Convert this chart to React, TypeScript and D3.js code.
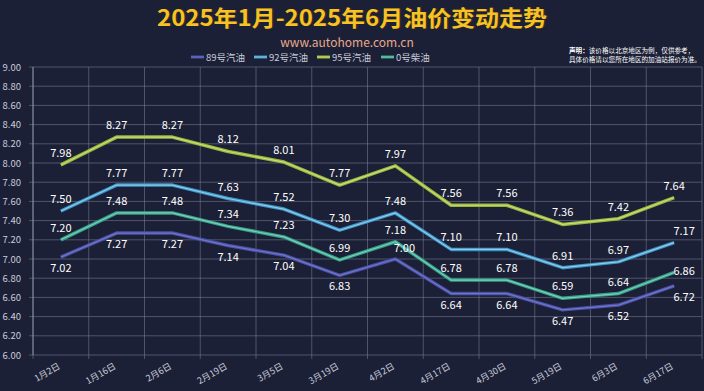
import * as d3 from 'd3';
import React from 'react';

const categories = ['1月2日', '1月16日', '2月6日', '2月19日', '3月5日', '3月19日', '4月2日', '4月17日', '4月30日', '5月19日', '6月3日', '6月17日'];
const seriesNames = ['89号汽油', '92号汽油', '95号汽油', '0号柴油'];
const gas89 = [7.02, 7.27, 7.27, 7.14, 7.04, 6.83, 7.0, 6.64, 6.64, 6.47, 6.52, 6.72];
const gas92 = [7.5, 7.77, 7.77, 7.63, 7.52, 7.3, 7.48, 7.1, 7.1, 6.91, 6.97, 7.17];
const gas95 = [7.98, 8.27, 8.27, 8.12, 8.01, 7.77, 7.97, 7.56, 7.56, 7.36, 7.42, 7.64];
const diesel0 = [7.2, 7.48, 7.48, 7.34, 7.23, 6.99, 7.18, 6.78, 6.78, 6.59, 6.64, 6.86];
const yTicks = [6.0, 6.2, 6.4, 6.6, 6.8, 7.0, 7.2, 7.4, 7.6, 7.8, 8.0, 8.2, 8.4, 8.6, 8.8, 9.0];

const W = 704, H = 391;
const left = 33, right = 702, top = 67, bottom = 355;
const font = '"Noto Sans CJK SC", "Noto Sans", sans-serif';

const colors = ['#4a4fa6', '#3b95c8', '#98b63a', '#33a088'];
const cores = ['#7076c8', '#8fcbe8', '#c6de7c', '#7ccfb6'];

export default function App() {
  const series = [gas89, gas92, gas95, diesel0];
  const x = d3.scaleBand<string>().domain(categories).range([left, right]);
  const y = d3.scaleLinear().domain([6, 9]).range([bottom, top]);
  const cx = (c: string) => (x(c) ?? 0) + x.bandwidth() / 2;
  const line = d3.line<number>().x((_, i) => cx(categories[i])).y(d => y(d));
  const last = categories.length - 1;

  // label placement: 89 below the line, others above
  const labelPos = (s: number, i: number) => {
    let dx = 0;
    let dy = s === 0 ? 15 : -8;
    if (s === 0 && i === 6) { dy = -7; dx = 9; }
    if (i === last && s !== 2) {
      dx = 10;
      if (s === 3) dy = 3;
    }
    return { dx, dy };
  };

  const legendX = [191, 254, 317, 381];

  return (
    <svg width={W} height={H} style={{ position: 'absolute', left: 0, top: 0 }} fontFamily={font}>
      <rect width={W} height={H} fill="#1c2036" />
      <g transform="translate(352,0) scale(1.09,1)">
        <text x={1.2} y={25.5} textAnchor="middle" fontSize={22} fontWeight="bold" fill="#4a3008" opacity={0.8}>
          2025年1月-2025年6月油价变动走势
        </text>
        <text x={0} y={25.5} textAnchor="middle" fontSize={22} fontWeight="bold" fill="#f6c224">
          2025年1月-2025年6月油价变动走势
        </text>
      </g>
      <text x={347} y={46.5} textAnchor="middle" fontSize={12} fill="#e9a98c">
        www.autohome.com.cn
      </text>
      {seriesNames.map((n, i) => (
        <g key={n}>
          <line x1={legendX[i]} x2={legendX[i] + 13} y1={57} y2={57} stroke={colors[i]} strokeWidth={3} />
          <line x1={legendX[i]} x2={legendX[i] + 13} y1={57} y2={57} stroke={cores[i]} strokeWidth={1} />
          <text x={legendX[i] + 15} y={60.5} fontSize={9.5} fill="#c9cddb">{n}</text>
        </g>
      ))}
      <text x={569} y={53} fontSize={6.6} fill="#ffffff">
        <tspan fontWeight="bold">声明：</tspan>该价格以北京地区为例，仅供参考，
      </text>
      <text x={569} y={62} fontSize={6.6} fill="#ffffff">具体价格请以您所在地区的加油站报价为准。</text>

      {yTicks.map(t => (
        <g key={t}>
          <line x1={left - 4} x2={right} y1={y(t)} y2={y(t)} stroke="#7a8098" strokeOpacity={0.55} strokeWidth={1} />
          <text x={21} y={y(t) + 3.5} textAnchor="end" fontSize={9.5} fill="#c8ccda">{t.toFixed(2)}</text>
        </g>
      ))}
      {categories.map(c => (
        <line key={c} x1={x(c)} x2={x(c)} y1={top} y2={bottom + 4} stroke="#7a8098" strokeOpacity={0.55} />
      ))}
      <line x1={right} x2={right} y1={top} y2={bottom + 4} stroke="#7a8098" strokeOpacity={0.55} />
      <line x1={left} x2={left} y1={top} y2={bottom} stroke="#9aa0b5" strokeOpacity={0.8} />

      {categories.map(c => (
        <text key={c} x={cx(c)} y={368} textAnchor="end" fontSize={9} fill="#c8ccda"
          transform={`rotate(-30 ${cx(c)} 368)`}>{c}</text>
      ))}

      {series.map((s, k) => (
        <g key={k}>
          <path d={line(s) ?? ''} fill="none" stroke={colors[k]} strokeWidth={3.5} strokeLinejoin="round" />
          <path d={line(s) ?? ''} fill="none" stroke={cores[k]} strokeWidth={1.2} strokeLinejoin="round" />
        </g>
      ))}
      {series.map((s, k) => (
        <g key={'l' + k}>
          {s.map((v, i) => {
            const p = labelPos(k, i);
            return (
              <text key={i} x={cx(categories[i]) + p.dx} y={y(v) + p.dy} textAnchor="middle" fontSize={11} fill="#ffffff">
                {v.toFixed(2)}
              </text>
            );
          })}
        </g>
      ))}
    </svg>
  );
}
